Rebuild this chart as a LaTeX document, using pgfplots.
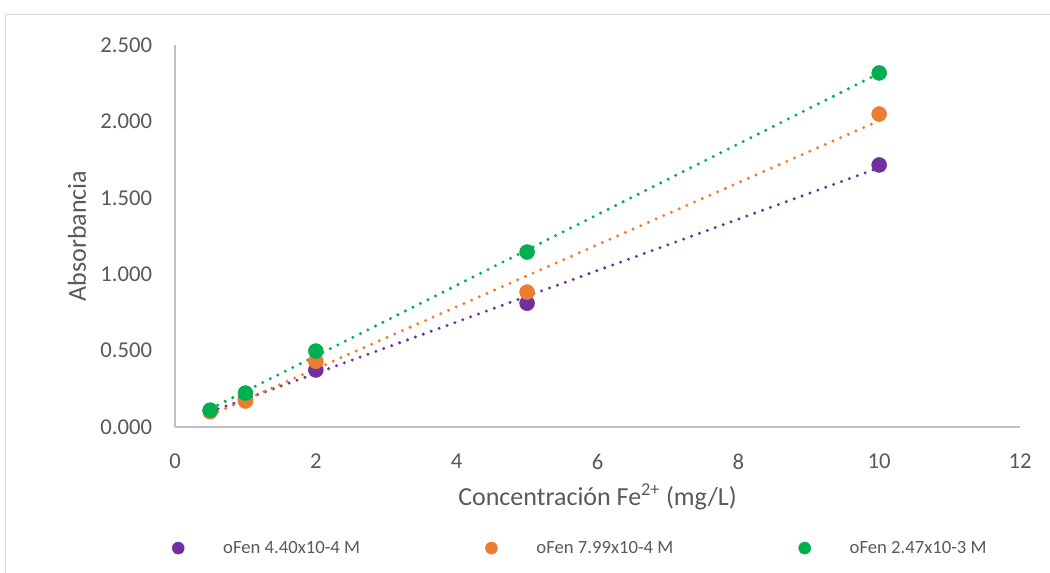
\documentclass[border=0pt]{standalone}
\usepackage{pgfplots}
\pgfplotsset{compat=1.18}
\usepackage{pgfplotstable}
\usepackage{fontspec}
\setmainfont{Carlito}
\definecolor{cP}{HTML}{7030A0}
\definecolor{cO}{HTML}{ED7D31}
\definecolor{cG}{HTML}{00B050}
\definecolor{txt}{HTML}{595959}
\definecolor{axl}{HTML}{BFBFBF}
\definecolor{frm}{HTML}{D9D9D9}
\pgfplotstableread{
x    p      o      g
0.5  0.108  0.100  0.110
1    0.180  0.170  0.222
2    0.373  0.430  0.497
5    0.810  0.883  1.145
10   1.715  2.048  2.317
}\data
\begin{document}
\begin{tikzpicture}[x=0.75pt,y=-0.75pt]
\useasboundingbox (0,0) rectangle (1050,573);
\clip (0,0) rectangle (1050,573);
\draw[frm, line width=1.1pt] (5.5,14.5) rectangle (1100,650);
\coordinate (A) at (175,427);
\begin{axis}[
  at={(A)}, anchor=south west,
  scale only axis, width=633.75pt, height=286.5pt,
  xmin=0, xmax=12, ymin=0, ymax=2.5,
  xtick={0,2,...,12}, ytick={0,0.5,...,2.5},
  axis x line*=bottom, axis y line*=left,
  axis line style={axl, line width=1.1pt, -},
  major tick length=0pt,
  tick label style={font=\fontsize{17}{20}\selectfont, text=txt, inner sep=0pt},
  xticklabel shift=20pt, yticklabel shift=17pt,
  /pgf/number format/assume math mode=true,
  yticklabel style={/pgf/number format/.cd, fixed, fixed zerofill, precision=3},
  xlabel={Concentración Fe\textsuperscript{2+} (mg/L)},
  ylabel={Absorbancia},
  every axis x label/.style={at={(axis description cs:0.5,-0.183)}, anchor=center, font=\fontsize{19.5}{22}\selectfont, text=txt},
  every axis y label/.style={at={(axis description cs:-0.116,0.5)}, rotate=90, anchor=center, font=\fontsize{19.5}{22}\selectfont, text=txt},
  legend columns=3,
  legend style={at={(-0.0036,-0.317)}, anchor=west, draw=none, fill=none,
    font=\fontsize{14}{16}\selectfont, text=txt, inner sep=0pt,
    /tikz/every even column/.append style={column sep=92pt}},
  legend image code/.code={\path[draw=none,fill=none] (-4.5pt,0pt) rectangle (31.75pt,0.1pt); \path[#1, draw=none, mark size=4.5pt] plot coordinates {(0pt,0pt)};},
  clip=false,
]
\addplot[only marks, mark=*, mark size=5.6pt, cP, mark options={draw=cP, fill=cP}] table[x=x,y=p] {\data};
\addlegendentry{oFen 4.40x10-4 M}
\addplot[only marks, mark=*, mark size=5.6pt, cO, mark options={draw=cO, fill=cO}] table[x=x,y=o] {\data};
\addlegendentry{oFen 7.99x10-4 M}
\addplot[only marks, mark=*, mark size=5.6pt, cG, mark options={draw=cG, fill=cG}] table[x=x,y=g] {\data};
\addlegendentry{oFen 2.47x10-3 M}
\addplot[forget plot, no marks, cP, line width=2.5pt, line cap=round, dash pattern=on 0pt off 6.3pt] table[x=x, y={create col/linear regression={y=p}}] {\data};
\addplot[forget plot, no marks, cO, line width=2.5pt, line cap=round, dash pattern=on 0pt off 6.3pt] table[x=x, y={create col/linear regression={y=o}}] {\data};
\addplot[forget plot, no marks, cG, line width=2.5pt, line cap=round, dash pattern=on 0pt off 6.3pt] table[x=x, y={create col/linear regression={y=g}}] {\data};
\end{axis}
\end{tikzpicture}
\end{document}
